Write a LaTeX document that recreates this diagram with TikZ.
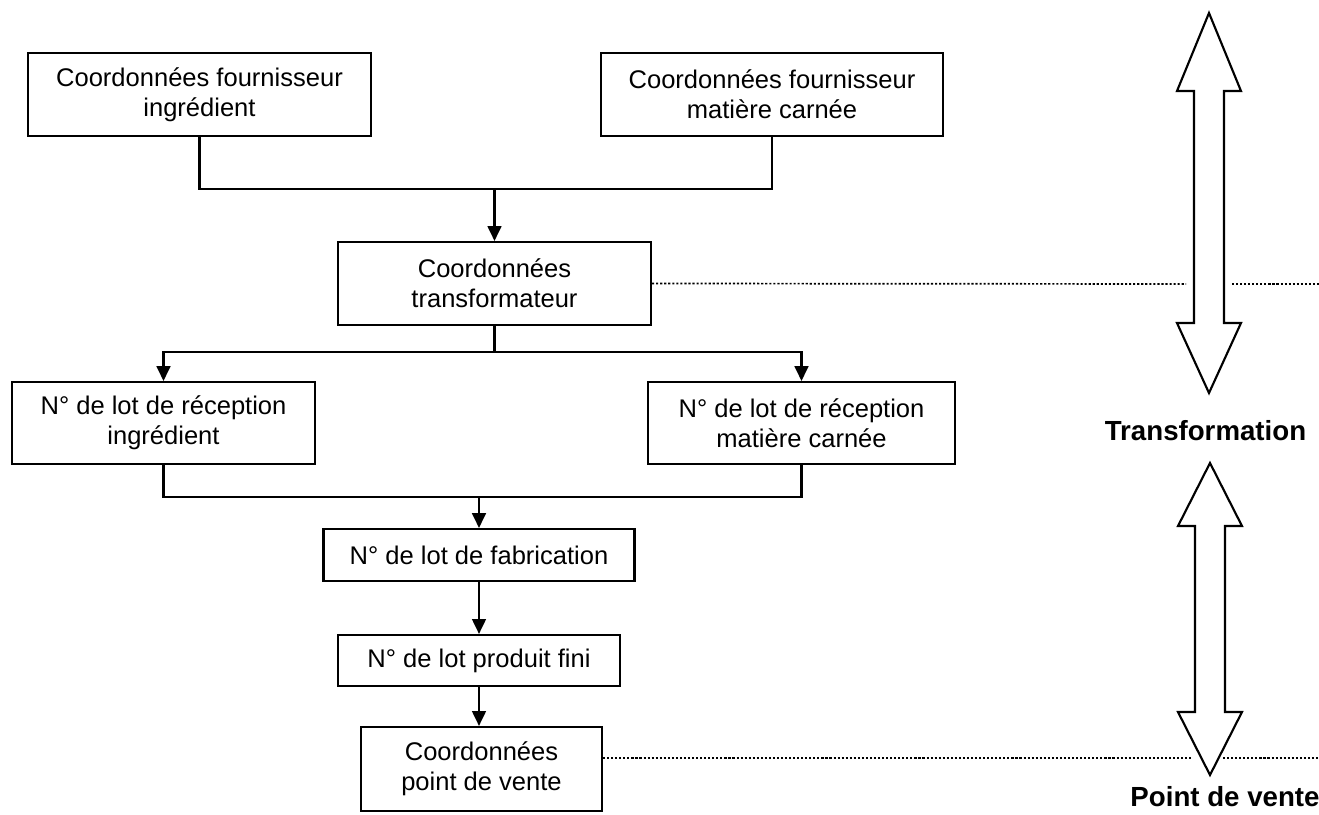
\documentclass[tikz,border=0pt]{standalone}
\usepackage{fontspec}
\setmainfont{Liberation Sans}
\usetikzlibrary{arrows.meta}

\tikzset{
  box/.style={draw, line width=1pt, align=center, inner sep=0pt, font=\fontsize{12}{14.1}\selectfont},
  flow/.style={line width=1pt},
  flowarrow/.style={flow, -{Triangle[width=6.5pt,length=7pt]}},
  guide/.style={line width=0.8pt, dash pattern=on 1pt off 0.9pt},
  phase/.style={font=\fontsize{13}{15}\selectfont\bfseries},
  bigarrow/.style={line width=1pt, fill=white},
}

\begin{document}
\begin{tikzpicture}[x=0.47pt, y=-0.47pt]
  \useasboundingbox (0,0) rectangle (1319,815);

  % suppliers
  \node[box, minimum width=161.2pt, minimum height=39pt] (fouring) at (199.5,94.5) {Coordonnées fournisseur\\ingrédient};
  \node[box, minimum width=160.7pt, minimum height=39pt] (fourcar) at (772,94.5) {Coordonnées fournisseur\\matière carnée};

  % processor
  \node[box, minimum width=147.1pt, minimum height=39pt] (trans) at (494.5,283.5) {Coordonnées\\transformateur};

  % lots
  \node[box, minimum width=142.4pt, minimum height=38.5pt] (recing) at (163.5,423) {N° de lot de réception\\ingrédient};
  \node[box, minimum width=144.3pt, minimum height=38.5pt] (reccar) at (801.5,423) {N° de lot de réception\\matière carnée};
  \node[box, minimum width=146.2pt, minimum height=24.4pt] (fab) at (479,555) {N° de lot de fabrication};
  \node[box, minimum width=132.5pt, minimum height=24pt] (fini) at (479,660.5) {N° de lot produit fini};
  \node[box, minimum width=113.3pt, minimum height=39.5pt] (vente) at (481.5,769) {Coordonnées\\point de vente};

  % connectors
  \coordinate (merge1) at (494.5,189);
  \coordinate (split) at (494.5,352);
  \coordinate (merge2) at (479,497);
  \draw[flow] (fouring.south) |- (merge1) -| (fourcar.south);
  \draw[flowarrow] (merge1) -- (trans.north);
  \draw[flow] (trans.south) -- (split);
  \draw[flowarrow] (split) -| (recing.north);
  \draw[flowarrow] (split) -| (reccar.north);
  \draw[flow] (recing.south) |- (merge2) -| (reccar.south);
  \draw[flowarrow] (merge2) -- (fab.north);
  \draw[flowarrow] (fab.south) -- (fini.north);
  \draw[flowarrow] (fini.south) -- (fini.south |- vente.north);

  % dotted guides
  \coordinate (gapT1) at (1186,284);
  \coordinate (gapT2) at (1232,284);
  \coordinate (endT) at (1319,284);
  \coordinate (gapV1) at (1192,758);
  \coordinate (gapV2) at (1223,758);
  \coordinate (endV) at (1319,758);
  \draw[guide] (trans.east) -- (gapT1);
  \draw[guide] (gapT2) -- (endT);
  \draw[guide] (vente.east |- gapV1) -- (gapV1);
  \draw[guide] (gapV2) -- (endV);

  % stage arrows
  \draw[bigarrow] (1209,13) -- (1241,91) -- (1224,91) -- (1224,323) -- (1241,323) -- (1209,393)
    -- (1177,323) -- (1194,323) -- (1194,91) -- (1177,91) -- cycle;
  \draw[bigarrow] (1210,463) -- (1242,526) -- (1225,526) -- (1225,712) -- (1242,712) -- (1210,775)
    -- (1178,712) -- (1195,712) -- (1195,526) -- (1178,526) -- cycle;

  \node[phase] (ltrans) at (1205.5,431) {Transformation};
  \node[phase] (lvente) at (1225,797) {Point de vente};
\end{tikzpicture}
\end{document}
